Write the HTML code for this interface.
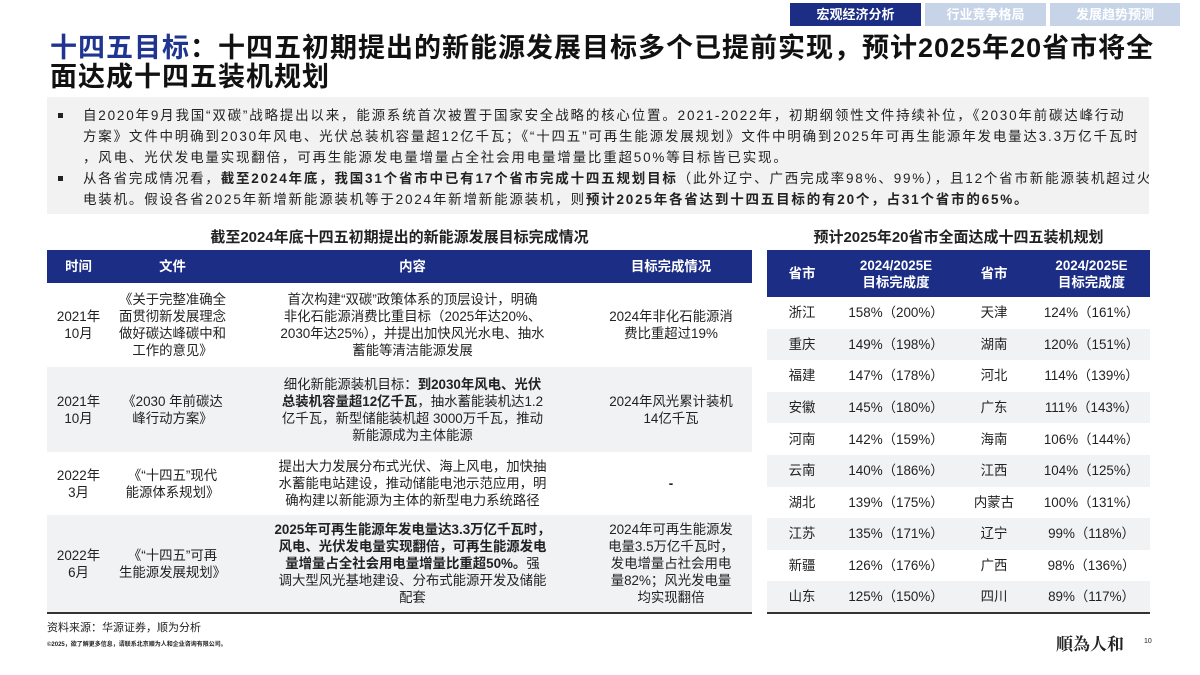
<!DOCTYPE html>
<html><head><meta charset="utf-8">
<style>
*{margin:0;padding:0;box-sizing:border-box}
body{width:1200px;height:675px;overflow:hidden;background:#fff;font-family:"Liberation Sans","Noto Sans CJK SC",sans-serif;color:#222;position:relative}
.abs{position:absolute}
.tab{position:absolute;top:3px;height:23px;color:#fff;font-size:13px;font-weight:bold;text-align:center;line-height:23px}
h1{position:absolute;left:50px;top:34px;width:1130px;font-size:27px;letter-spacing:1px;line-height:29px;font-weight:bold;color:#111;white-space:nowrap}
h1 span{color:#1f3590}
.box{position:absolute;left:47px;top:97px;width:1102px;height:117px;background:#f2f2f2;padding:8px 0 0 36px;font-size:13.5px;letter-spacing:1.8px;line-height:21px;color:#222;white-space:nowrap;overflow:hidden}
.box p{position:relative}
.box p:before{content:"";position:absolute;left:-25px;top:8px;width:5px;height:5px;background:#222}
table{border-collapse:collapse;position:absolute;font-size:13.4px;line-height:17px;text-align:center}
th{background:#1b2d85;color:#fff;font-weight:bold}
td{color:#222}
tr.g td{background:#f1f2f4}
.ttl{position:absolute;top:226px;font-size:15px;font-weight:bold;text-align:center}
</style></head><body>
<div class="tab" style="left:790px;width:131px;background:#1b2d85">宏观经济分析</div>
<div class="tab" style="left:925px;width:121px;background:#c7d4e8">行业竞争格局</div>
<div class="tab" style="left:1050px;width:130px;background:#c7d4e8">发展趋势预测</div>
<h1><span>十四五目标</span>：十四五初期提出的新能源发展目标多个已提前实现，预计2025年20省市将全<br>面达成十四五装机规划</h1>
<div class="box">
<p>自2020年9月我国“双碳”战略提出以来，能源系统首次被置于国家安全战略的核心位置。2021-2022年，初期纲领性文件持续补位，《2030年前碳达峰行动<br>方案》文件中明确到2030年风电、光伏总装机容量超12亿千瓦；《“十四五”可再生能源发展规划》文件中明确到2025年可再生能源年发电量达3.3万亿千瓦时<br>，风电、光伏发电量实现翻倍，可再生能源发电量增量占全社会用电量增量比重超50%等目标皆已实现。</p>
<p>从各省完成情况看，<b>截至2024年底，我国31个省市中已有17个省市完成十四五规划目标</b>（此外辽宁、广西完成率98%、99%），且12个省市新能源装机超过火<br>电装机。假设各省2025年新增新能源装机等于2024年新增新能源装机，则<b>预计2025年各省达到十四五目标的有20个，占31个省市的65%。</b></p>
</div>
<div class="ttl" style="left:47px;width:705px">截至2024年底十四五初期提出的新能源发展目标完成情况</div>
<table style="left:47px;top:250px;width:705px;border-bottom:2px solid #333">
<colgroup><col style="width:63px"><col style="width:125px"><col style="width:355px"><col style="width:162px"></colgroup>
<tr style="height:33px"><th>时间</th><th>文件</th><th>内容</th><th>目标完成情况</th></tr>
<tr style="height:84px"><td>2021年<br>10月</td><td>《关于完整准确全<br>面贯彻新发展理念<br>做好碳达峰碳中和<br>工作的意见》</td><td>首次构建“双碳”政策体系的顶层设计，明确<br>非化石能源消费比重目标（2025年达20%、<br>2030年达25%），并提出加快风光水电、抽水<br>蓄能等清洁能源发展</td><td>2024年非化石能源消<br>费比重超过19%</td></tr>
<tr class="g" style="height:85px"><td>2021年<br>10月</td><td>《2030 年前碳达<br>峰行动方案》</td><td>细化新能源装机目标：<b>到2030年风电、光伏<br>总装机容量超12亿千瓦</b>，抽水蓄能装机达1.2<br>亿千瓦，新型储能装机超 3000万千瓦，推动<br>新能源成为主体能源</td><td>2024年风光累计装机<br>14亿千瓦</td></tr>
<tr style="height:63px"><td>2022年<br>3月</td><td>《“十四五”现代<br>能源体系规划》</td><td>提出大力发展分布式光伏、海上风电，加快抽<br>水蓄能电站建设，推动储能电池示范应用，明<br>确构建以新能源为主体的新型电力系统路径</td><td><b>-</b></td></tr>
<tr class="g" style="height:98px"><td>2022年<br>6月</td><td>《“十四五”可再<br>生能源发展规划》</td><td><b>2025年可再生能源年发电量达3.3万亿千瓦时，<br>风电、光伏发电量实现翻倍，可再生能源发电<br>量增量占全社会用电量增量比重超50%。</b>强<br>调大型风光基地建设、分布式能源开发及储能<br>配套</td><td>2024年可再生能源发<br>电量3.5万亿千瓦时，<br>发电增量占社会用电<br>量82%；风光发电量<br>均实现翻倍</td></tr>
</table>
<div class="abs" style="left:47px;top:619px;font-size:11px">资料来源：华源证券，顺为分析</div>
<div class="abs" style="left:47px;top:639px;font-size:6px;font-weight:bold">©2025，欲了解更多信息，请联系北京顺为人和企业咨询有限公司。</div>
<div class="ttl" style="left:767px;width:383px">预计2025年20省市全面达成十四五装机规划</div>
<table style="left:767px;top:250px;width:383px;border-bottom:2px solid #333;font-size:13.4px">
<colgroup><col style="width:70px"><col style="width:118px"><col style="width:78px"><col style="width:117px"></colgroup>
<tr style="height:47px"><th>省市</th><th>2024/2025E<br>目标完成度</th><th>省市</th><th>2024/2025E<br>目标完成度</th></tr>
<tbody id="rows"></tbody>
</table>
<div class="abs" style="left:1056px;top:630px;font-size:17px;font-family:'Noto Serif CJK SC',serif;font-weight:bold">順為人和</div>
<div class="abs" style="left:1144px;top:638px;font-size:7px">10</div>
<script>
const provA=["浙江","重庆","福建","安徽","河南","云南","湖北","江苏","新疆","山东"];
const valA=["158%（200%）","149%（198%）","147%（178%）","145%（180%）","142%（159%）","140%（186%）","139%（175%）","135%（171%）","126%（176%）","125%（150%）"];
const provB=["天津","湖南","河北","广东","海南","江西","内蒙古","辽宁","广西","四川"];
const valB=["124%（161%）","120%（151%）","114%（139%）","111%（143%）","106%（144%）","104%（125%）","100%（131%）","99%（118%）","98%（136%）","89%（117%）"];
const tb=document.getElementById('rows');
provA.forEach((p,i)=>{
const tr=document.createElement('tr');


tr.style.height='31.6px';
if(i%2)tr.className='g';
[p,valA[i],provB[i],valB[i]].forEach(t=>{const td=document.createElement('td');td.textContent=t;tr.appendChild(td);});
tb.appendChild(tr);
});
</script>
</body></html>
